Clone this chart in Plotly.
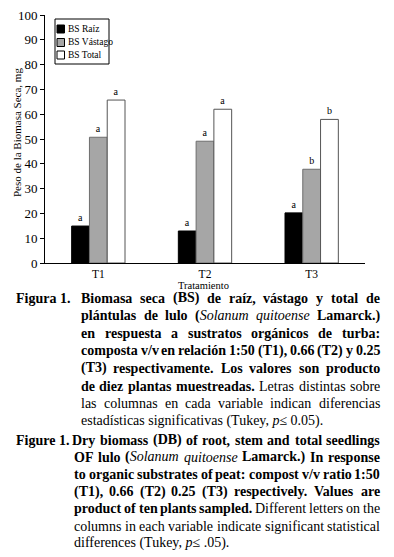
import plotly.graph_objects as go

# ---------------- data ----------------
categories = ["T1", "T2", "T3"]
bs_raiz = [14.9, 12.9, 20.2]
bs_vastago = [50.7, 49.1, 37.8]
bs_total = [65.7, 62.0, 57.9]
letters_raiz = ["a", "a", "a"]
letters_vastago = ["a", "a", "b"]
letters_total = ["a", "a", "b"]
series_names = ["BS Raíz", "BS Vástago", "BS Total"]
y_ticks = [0, 10, 20, 30, 40, 50, 60, 70, 80, 90, 100]

FONT = "Liberation Serif"
W, H = 394, 557
L, R, T, B = 45, 365, 15, 263  # plot area in pixels


def px(x):
    return (x - L) / (R - L)


def py(y):
    return (B - y) / (B - T)


fig = go.Figure()
styles = [
    dict(color="#000000", line=dict(color="#000000", width=1)),
    dict(color="#a6a6a6", line=dict(color="#6e6e6e", width=1)),
    dict(color="#ffffff", line=dict(color="#555555", width=1)),
]
for name, vals, lets, st in zip(series_names, [bs_raiz, bs_vastago, bs_total],
                                [letters_raiz, letters_vastago, letters_total], styles):
    fig.add_trace(go.Bar(
        x=categories, y=vals, name=name, marker=st,
        text=lets, textposition="outside", cliponaxis=False,
        textfont=dict(family=FONT, size=10, color="#000000"),
        showlegend=False,
    ))

fig.update_layout(
    template="none",
    width=W, height=H, autosize=False,
    margin=dict(l=L, r=W - R, t=T, b=H - B, pad=0),
    paper_bgcolor="white", plot_bgcolor="white",
    barmode="group", bargap=0.5, bargroupgap=0,
    font=dict(family=FONT, color="#000000"),
    showlegend=False,
    xaxis=dict(showline=True, linecolor="#000000", linewidth=1, ticks="",
               showgrid=False, zeroline=False, automargin=False,
               tickfont=dict(family=FONT, size=11.5, color="#000000")),
    yaxis=dict(range=[0, 100], tickvals=y_ticks, showline=True, linecolor="#000000",
               linewidth=1, ticks="outside", ticklen=4, tickcolor="#000000",
               showgrid=False, zeroline=False, automargin=False,
               tickfont=dict(family=FONT, size=13, color="#000000")),
)

annotations = []
shapes = []

# axis titles
annotations.append(dict(text="Peso de la Biomasa Seca, mg", xref="paper", yref="paper",
                        x=px(17), y=py(133), textangle=-90, showarrow=False,
                        font=dict(family=FONT, size=11), xanchor="center", yanchor="middle"))
annotations.append(dict(text="Tratamiento", xref="paper", yref="paper",
                        x=px(203), y=py(285.5), showarrow=False, borderpad=0,
                        font=dict(family=FONT, size=10.5), xanchor="center", yanchor="middle"))

# legend (manual)
shapes.append(dict(type="rect", xref="paper", yref="paper", x0=px(55), x1=px(109),
                   y0=py(64), y1=py(19), line=dict(color="#000000", width=1),
                   fillcolor="white", layer="above"))
leg_y = [29, 42.5, 55]
for name, st, yc in zip(series_names, styles, leg_y):
    shapes.append(dict(type="rect", xref="paper", yref="paper", x0=px(57), x1=px(64.5),
                       y0=py(yc + 4), y1=py(yc - 4),
                       line=dict(color="#000000", width=1), fillcolor=st["color"], layer="above"))
    annotations.append(dict(text=name, xref="paper", yref="paper", x=px(66.5), y=py(yc),
                            xanchor="left", yanchor="middle", showarrow=False, borderpad=0,
                            font=dict(family=FONT, size=9.5)))

# ---------------- caption (justified) ----------------
REG = {' ': 250, '(': 333, ')': 333, ',': 250, '-': 333, '.': 250, '/': 278, ':': 278, ';': 278,
       '≤': 549,
       'A': 722, 'B': 667, 'C': 667, 'D': 722, 'E': 611, 'F': 556, 'G': 722, 'H': 722, 'I': 333,
       'J': 389, 'K': 722, 'L': 611, 'M': 889, 'N': 722, 'O': 722, 'P': 556, 'Q': 722, 'R': 667,
       'S': 556, 'T': 611, 'U': 722, 'V': 722, 'W': 944, 'X': 722, 'Y': 722, 'Z': 611,
       'a': 444, 'b': 500, 'c': 444, 'd': 500, 'e': 444, 'f': 333, 'g': 500, 'h': 500, 'i': 278,
       'j': 278, 'k': 500, 'l': 278, 'm': 778, 'n': 500, 'o': 500, 'p': 500, 'q': 500, 'r': 333,
       's': 389, 't': 278, 'u': 500, 'v': 500, 'w': 722, 'x': 500, 'y': 500, 'z': 444}
BOLD = {' ': 250, '(': 333, ')': 333, ',': 250, '-': 333, '.': 250, '/': 278, ':': 333, ';': 333,
        '≤': 549,
        'A': 722, 'B': 667, 'C': 722, 'D': 722, 'E': 667, 'F': 611, 'G': 778, 'H': 778, 'I': 389,
        'J': 500, 'K': 778, 'L': 667, 'M': 944, 'N': 722, 'O': 778, 'P': 611, 'Q': 778, 'R': 722,
        'S': 556, 'T': 667, 'U': 722, 'V': 722, 'W': 1000, 'X': 722, 'Y': 722, 'Z': 667,
        'a': 500, 'b': 556, 'c': 444, 'd': 556, 'e': 444, 'f': 333, 'g': 500, 'h': 556, 'i': 278,
        'j': 333, 'k': 556, 'l': 278, 'm': 833, 'n': 556, 'o': 500, 'p': 556, 'q': 556, 'r': 444,
        's': 389, 't': 333, 'u': 556, 'v': 500, 'w': 722, 'x': 500, 'y': 500, 'z': 444}
ITAL = {' ': 250, 'S': 500, 'a': 500, 'b': 500, 'c': 444, 'd': 500, 'e': 444, 'f': 278, 'g': 500,
        'h': 500, 'i': 278, 'k': 444, 'l': 278, 'm': 722, 'n': 500, 'o': 500, 'p': 500, 'q': 500,
        'r': 389, 's': 389, 't': 278, 'u': 500, 'v': 444}
METRICS = {"r": REG, "b": BOLD, "i": ITAL}
ACC = str.maketrans("áéíóúñ", "aeioun")
CAP = 14


def seg_w(text, style):
    m = METRICS[style]
    return sum(m.get(c.translate(ACC), 500) for c in text) * CAP / 1000.0


def markup(text, style):
    if style == "b":
        return "<b>" + text + "</b>"
    if style == "i":
        return "<i>" + text + "</i>"
    return text


def to_words(segs):
    words, cur = [], []
    for text, st in segs:
        parts = text.split(" ")
        for i, p in enumerate(parts):
            if i > 0 and cur:
                words.append(cur)
                cur = []
            if p:
                cur.append((p, st))
    if cur:
        words.append(cur)
    return words


def add_line(segs, x0, x1, yc, justify=True):
    if not justify:
        txt = "".join(markup(t, s) for t, s in segs)
        annotations.append(dict(text=txt, xref="paper", yref="paper", x=px(x0), y=py(yc),
                                xanchor="left", yanchor="middle", showarrow=False, borderpad=0,
                                font=dict(family=FONT, size=CAP)))
        return
    words = to_words(segs)
    widths = [sum(seg_w(t, s) for t, s in w) for w in words]
    gap = (x1 - x0 - sum(widths)) / max(len(words) - 1, 1)
    x = x0
    for w, wd in zip(words, widths):
        txt = "".join(markup(t, s) for t, s in w)
        annotations.append(dict(text=txt, xref="paper", yref="paper", x=px(x), y=py(yc),
                                xanchor="left", yanchor="middle", showarrow=False, borderpad=0,
                                font=dict(family=FONT, size=CAP)))
        x += wd + gap


RIGHT = 379
es_lines = [
    [("Biomasa seca (BS) de raíz, vástago y total de", "b")],
    [("plántulas de lulo (", "b"), ("Solanum quitoense", "i"), (" Lamarck.)", "b")],
    [("en respuesta a sustratos orgánicos de turba:", "b")],
    [("composta v/v en relación 1:50 (T1), 0.66 (T2) y 0.25", "b")],
    [("(T3) respectivamente. Los valores son producto", "b")],
    [("de diez plantas muestreadas.", "b"), (" Letras distintas sobre", "r")],
    [("las columnas en cada variable indican diferencias", "r")],
    [("estadísticas significativas (Tukey, ", "r"), ("p", "i"), ("≤ 0.05).", "r")],
]
en_lines = [
    [("Dry biomass (DB) of root, stem and total seedlings", "b")],
    [("OF lulo (", "b"), ("Solanum quitoense", "i"), (" Lamarck.) In response", "b")],
    [("to organic substrates of peat: compost v/v ratio 1:50", "b")],
    [("(T1), 0.66 (T2) 0.25 (T3) respectively. Values are", "b")],
    [("product of ten plants sampled.", "b"), (" Different letters on the", "r")],
    [("columns in each variable indicate significant statistical", "r")],
    [("differences (Tukey, ", "r"), ("p", "i"), ("≤ .05).", "r")],
]

es_y0, es_dy = 298, 17.6
add_line([("Figura 1.", "b")], 15, 0, es_y0, justify=False)
for i, segs in enumerate(es_lines):
    last = i == len(es_lines) - 1
    add_line(segs, 80, RIGHT, es_y0 + i * es_dy, justify=not last)

en_y0, en_dy = 440, 17.2
add_line([("Figure 1.", "b")], 15, 0, en_y0, justify=False)
for i, segs in enumerate(en_lines):
    last = i == len(en_lines) - 1
    x0 = 71 if i == 0 else 73
    add_line(segs, x0, RIGHT, en_y0 + i * en_dy, justify=not last)

fig.update_layout(annotations=annotations, shapes=shapes)
fig.write_html("out.html", config={"displayModeBar": False},
               post_script="document.body.style.margin='0px';")
